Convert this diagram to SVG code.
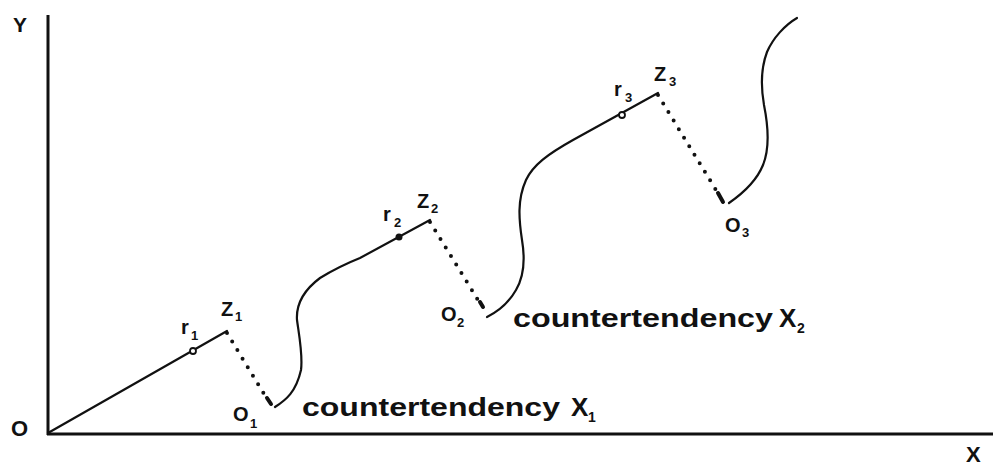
<svg xmlns="http://www.w3.org/2000/svg" width="993" height="468" viewBox="0 0 993 468">
<style>
text{font-family:"Liberation Sans",Arial,sans-serif;fill:#111;font-weight:bold}
.lbl{font-size:20px}
.sub{font-size:13px}
.big{font-size:26px}
.axis{stroke:#111;stroke-width:3;fill:none}
.line{stroke:#111;stroke-width:2.2;fill:none;stroke-linecap:round}
.dot{stroke:#111;stroke-width:4;fill:none;stroke-linecap:round;stroke-dasharray:0 10}
.dash{stroke:#111;stroke-width:4;stroke-linecap:round}
</style>
<rect width="993" height="468" fill="#fff"/>
<g id="axes">
<line class="axis" x1="48" y1="15" x2="48" y2="435"/>
<line class="axis" x1="47" y1="434" x2="993" y2="434"/>
<text x="13" y="32" style="font-size:21px">Y</text>
<text x="11" y="436" style="font-size:22px">O</text>
<text x="966" y="462" style="font-size:22px">X</text>
</g>
<g id="connectors">
<path class="line" d="M48,433 L227,331"/>
<path class="line" d="M275,407 C286,400 296,392 301,370 C303,355 299,335 297,320 C296,305 304,290 320,278 C333,270 345,264 360,258 L430,220"/>
<path class="line" d="M487,317 C497,312 508,304 516,290 C525,275 525,258 522,240 C519,220 517,200 526,180 C533,165 548,154 573,140 L658,93"/>
<path class="line" d="M729,203 C742,194 757,180 763,165 C770,148 768,125 764,105 C761,88 761,68 767,52 C773,38 785,25 797,18"/>
<path class="dot" d="M227,333 L264,394"/>
<line class="dash" x1="267" y1="398" x2="271" y2="404"/>
<path class="dot" d="M430,222 L478,300"/>
<line class="dash" x1="480" y1="302" x2="483" y2="307"/>
<path class="dot" d="M658,95 L716,190"/>
<line class="dash" x1="718" y1="193" x2="723" y2="202"/>
</g>
<g id="r1">
<circle cx="193" cy="351" r="3" fill="#fff" stroke="#111" stroke-width="1.8"/>
<text class="lbl" x="181" y="334">r</text><text class="sub" x="191" y="340">1</text>
</g>
<g id="z1">
<text class="lbl" x="221" y="316">Z</text><text class="sub" x="235" y="321">1</text>
</g>
<g id="o1">
<text class="lbl" x="233" y="421">O</text><text class="sub" x="250" y="428">1</text>
<text class="big" x="302" y="416" textLength="258" lengthAdjust="spacingAndGlyphs">countertendency</text>
<text class="big" x="571" y="416">X</text><text class="sub" x="588" y="422" style="font-size:14px">1</text>
</g>
<g id="r2">
<circle cx="399" cy="237" r="3.5" fill="#111"/>
<text class="lbl" x="383" y="221">r</text><text class="sub" x="394" y="227">2</text>
</g>
<g id="z2">
<text class="lbl" x="417" y="208">Z</text><text class="sub" x="431" y="213">2</text>
</g>
<g id="o2">
<text class="lbl" x="441" y="321">O</text><text class="sub" x="457" y="327">2</text>
<text class="big" x="513" y="327" textLength="260" lengthAdjust="spacingAndGlyphs">countertendency</text>
<text class="big" x="779" y="327">X</text><text class="sub" x="797" y="333" style="font-size:14px">2</text>
</g>
<g id="r3">
<circle cx="622" cy="115" r="3" fill="#fff" stroke="#111" stroke-width="1.8"/>
<text class="lbl" x="614" y="96">r</text><text class="sub" x="625" y="102">3</text>
</g>
<g id="z3">
<text class="lbl" x="654" y="81">Z</text><text class="sub" x="669" y="86">3</text>
</g>
<g id="o3">
<text class="lbl" x="725" y="232">O</text><text class="sub" x="742" y="237">3</text>
</g>
</svg>
